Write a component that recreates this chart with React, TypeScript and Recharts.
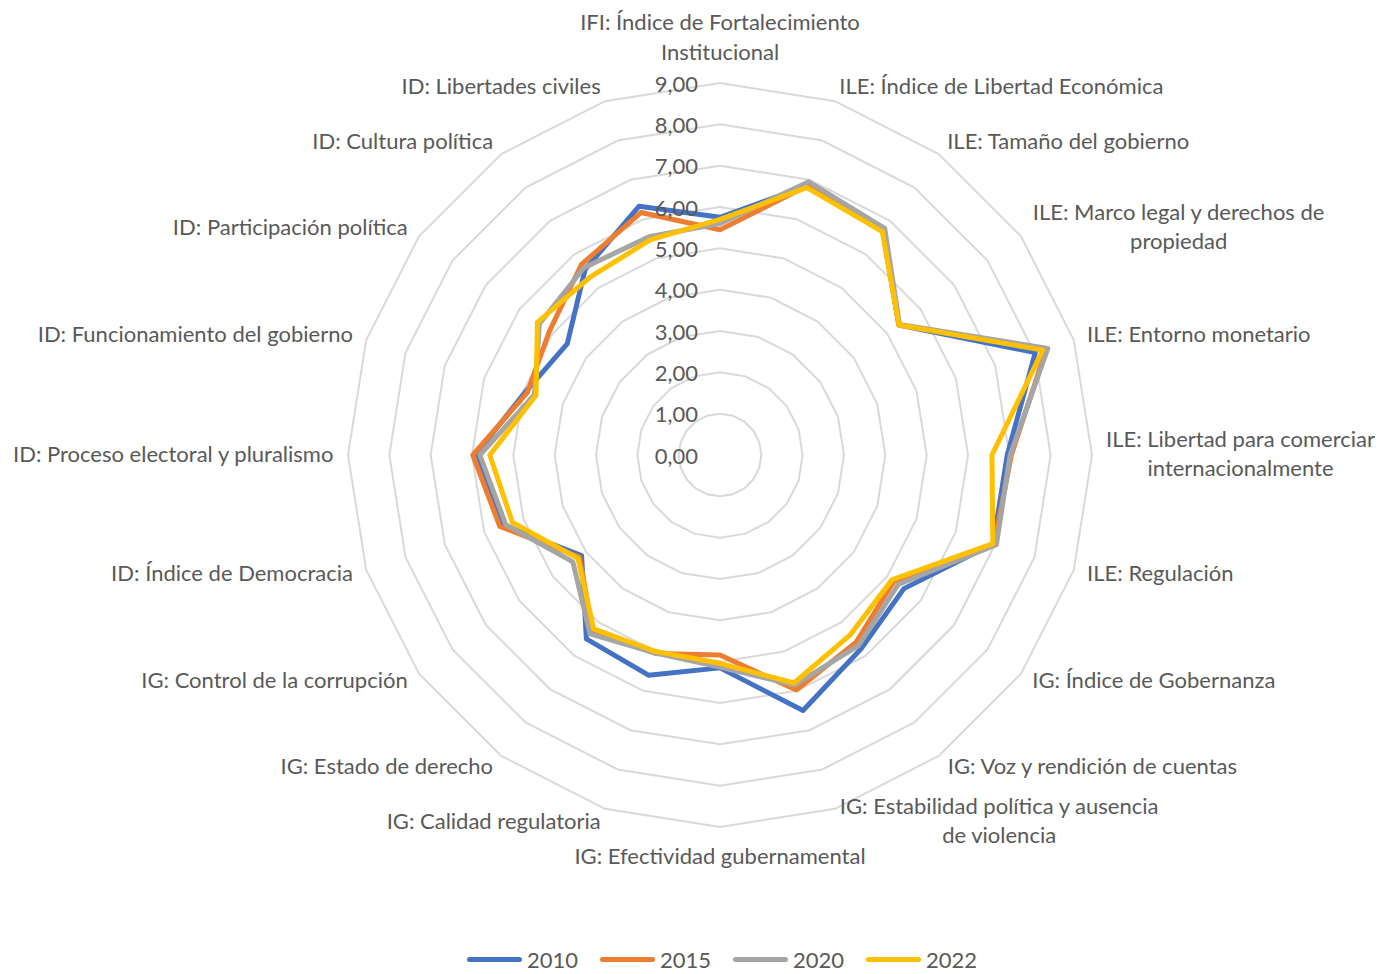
import { RadarChart, Radar, PolarGrid, PolarAngleAxis, PolarRadiusAxis, Legend } from 'recharts'

const categories = [
  'IFI: Índice de Fortalecimiento\nInstitucional',
  'ILE: Índice de Libertad Económica',
  'ILE: Tamaño del gobierno',
  'ILE: Marco legal y derechos de\npropiedad',
  'ILE: Entorno monetario',
  'ILE: Libertad para comerciar\ninternacionalmente',
  'ILE: Regulación',
  'IG: Índice de Gobernanza',
  'IG: Voz y rendición de cuentas',
  'IG: Estabilidad política y ausencia\nde violencia',
  'IG: Efectividad gubernamental',
  'IG: Calidad regulatoria',
  'IG: Estado de derecho',
  'IG: Control de la corrupción',
  'ID: Índice de Democracia',
  'ID: Proceso electoral y pluralismo',
  'ID: Funcionamiento del gobierno',
  'ID: Participación política',
  'ID: Cultura política',
  'ID: Libertades civiles',
]

const v2010 = [5.75, 6.85, 6.7, 5.35, 8.02, 6.95, 6.95, 5.5, 5.8, 6.5, 5.15, 5.6, 5.5, 4.14, 5.5, 5.92, 4.95, 4.57, 5.55, 6.33]
const v2015 = [5.45, 6.85, 6.7, 5.35, 8.3, 7.05, 6.97, 5.2, 5.6, 5.98, 4.84, 5.05, 5.25, 4.2, 5.6, 5.98, 4.9, 5.1, 5.7, 6.17]
const v2020 = [5.6, 6.95, 6.78, 5.37, 8.34, 7.02, 7.03, 5.33, 5.7, 5.85, 5.13, 5.04, 5.35, 4.4, 5.45, 5.81, 4.72, 5.4, 5.6, 5.55]
const v2022 = [5.7, 6.8, 6.68, 5.35, 8.21, 6.58, 6.94, 5.14, 5.37, 5.8, 5.04, 5.0, 5.2, 4.25, 5.28, 5.57, 4.68, 5.46, 5.33, 5.47]

const years = ['2010', '2015', '2020', '2022']
const colors = ['#4472C4', '#ED7D31', '#A5A5A5', '#FFC000']

const data = categories.map((cat, i) => ({
  cat,
  y2010: v2010[i],
  y2015: v2015[i],
  y2020: v2020[i],
  y2022: v2022[i],
}))

const CX = 720
const CY = 455
const R = 372
const FONT = 'Lato, "Open Sans", sans-serif'
const FS = 22
const TEXT = '#595959'
const LH = 29.5

let ctx: CanvasRenderingContext2D | null = null
function textWidth(s: string) {
  if (!ctx) ctx = document.createElement('canvas').getContext('2d')
  if (!ctx) return s.length * FS * 0.5
  ctx.font = `${FS}px ${FONT}`
  return ctx.measureText(s).width
}

function AngleTick(props: any) {
  const { payload } = props
  const ang = (payload.coordinate * Math.PI) / 180
  const dx = Math.cos(ang)
  const dy = -Math.sin(ang)
  const px = CX + (R + 14) * dx
  const py = CY + (R + 14) * dy
  const lines = String(payload.value).split('\n')
  const n = lines.length
  const w = Math.max(...lines.map(textWidth))
  let xc = px
  let firstY = py - 2 - ((n - 1) / 2) * LH
  if (Math.abs(dx) < 0.01) {
    firstY = dy < 0 ? py - 18 - (n - 1) * LH : py + 14
  } else if (dx > 0) {
    xc = px + w / 2
  } else {
    xc = px - w / 2
  }
  return (
    <text textAnchor="middle" fontFamily={FONT} fontSize={FS} fill={TEXT}>
      {lines.map((l, i) => (
        <tspan key={i} x={xc} y={firstY + i * LH} dominantBaseline="central">
          {l}
        </tspan>
      ))}
    </text>
  )
}

function RadiusTick(props: any) {
  const { x, y, payload } = props
  return (
    <text x={x - 22} y={y} textAnchor="end" dominantBaseline="central" fontFamily={FONT} fontSize={FS} fill={TEXT}>
      {Number(payload.value).toFixed(2).replace('.', ',')}
    </text>
  )
}

function LegendBox() {
  return (
    <div style={{ display: 'flex', justifyContent: 'center', paddingLeft: 44, fontFamily: FONT, fontSize: FS, color: TEXT }}>
      {years.map((y, i) => (
        <div key={y} style={{ display: 'flex', alignItems: 'center', marginRight: i < 3 ? 22 : 0 }}>
          <span style={{ display: 'inline-block', width: 55, height: 5, borderRadius: 3, background: colors[i], marginRight: 5 }} />
          <span>{y}</span>
        </div>
      ))}
    </div>
  )
}

export default function App() {
  return (
    <div style={{ position: 'absolute', left: 0, top: 0, width: 1400, height: 974, background: '#fff' }}>
      <RadarChart width={1400} height={974} data={data} cx={CX} cy={CY} outerRadius={R} startAngle={90} endAngle={-270}>
        <PolarGrid gridType="polygon" radialLines={false} stroke="#d9d9d9" strokeWidth={2} />
        <PolarAngleAxis dataKey="cat" tick={<AngleTick />} tickLine={false} axisLine={false} />
        <PolarRadiusAxis angle={90} domain={[0, 9]} tickCount={10} axisLine={false} tickLine={false} tick={<RadiusTick />} />
        {years.map((y, i) => (
          <Radar
            key={y}
            name={y}
            dataKey={`y${y}`}
            stroke={colors[i]}
            strokeWidth={5}
            strokeLinejoin="round"
            fill="none"
            fillOpacity={0}
            dot={false}
            isAnimationActive={false}
          />
        ))}
        <Legend content={<LegendBox />} wrapperStyle={{ top: 946, left: 0, width: 1400 }} />
      </RadarChart>
    </div>
  )
}
